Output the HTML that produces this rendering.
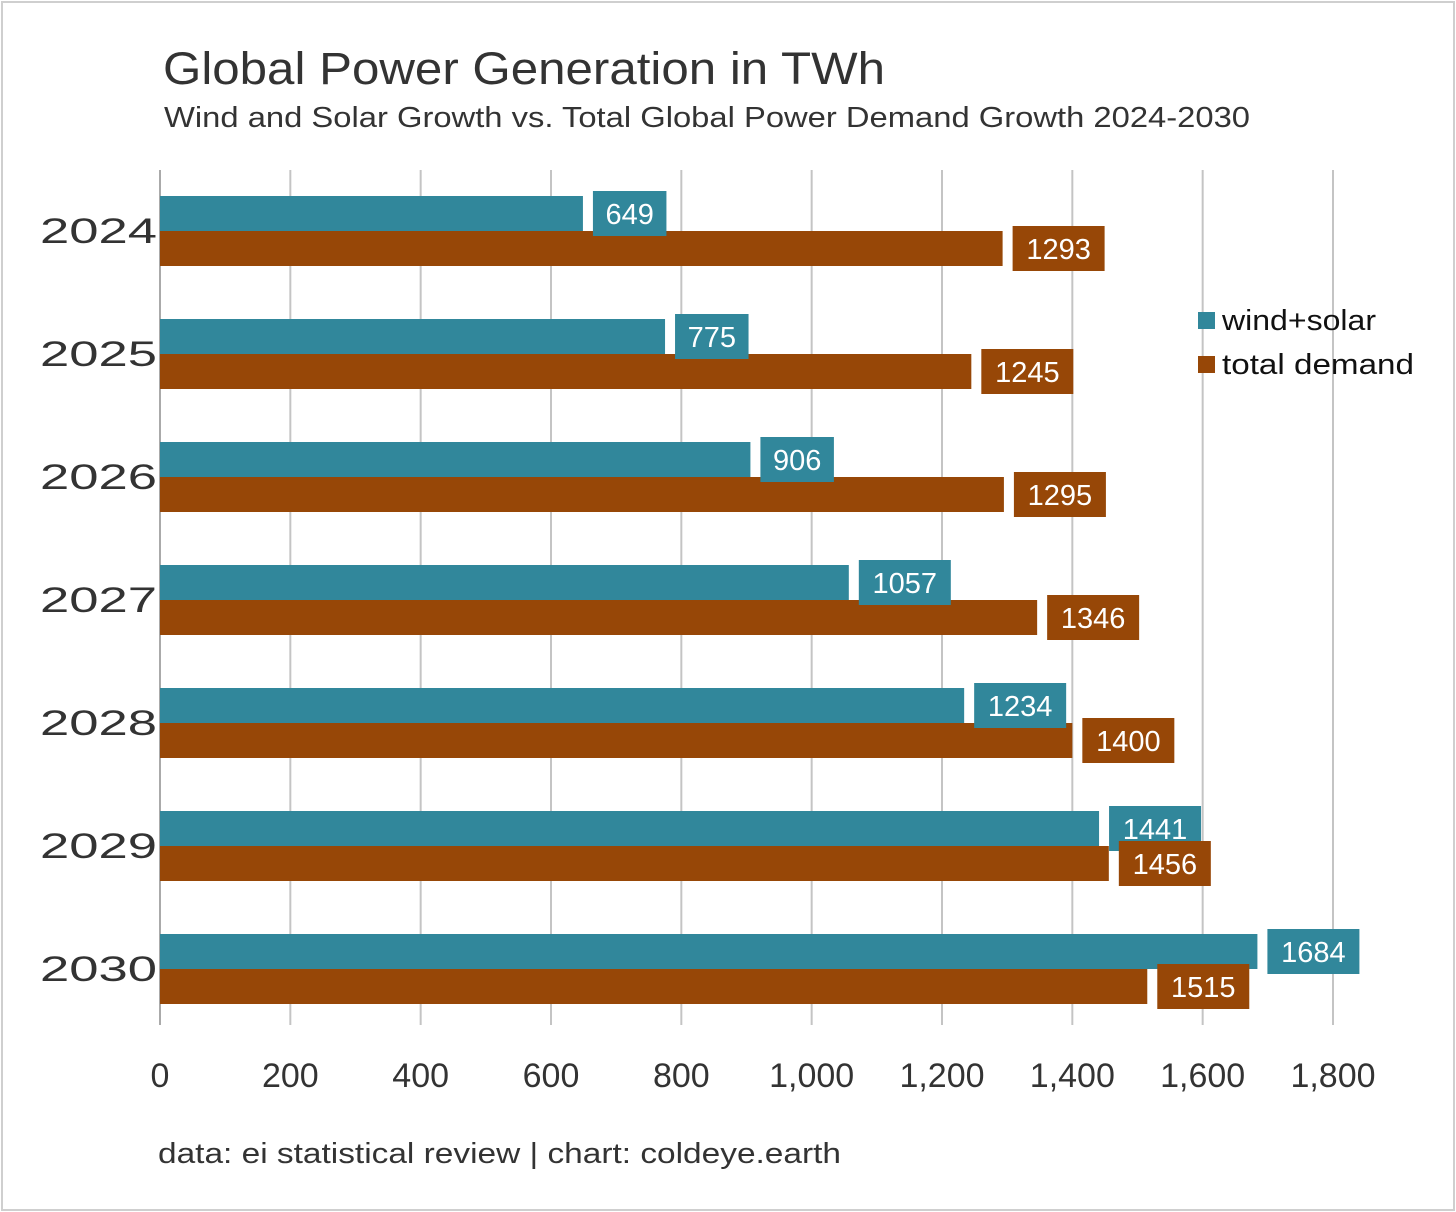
<!DOCTYPE html>
<html><head><meta charset="utf-8">
<style>
html,body{margin:0;padding:0;background:#fff;}
body{width:1456px;height:1212px;position:relative;overflow:hidden;font-family:"Liberation Sans",sans-serif;color:#333;}
#frame{position:absolute;left:1px;top:1px;width:1450px;height:1206px;border:2px solid #cfcfcf;}
</style></head><body>
<div id="frame"></div>
<svg id="chart" width="1456" height="1212" style="position:absolute;left:0;top:0">
<text x="163" y="84" font-size="45" fill="#333" textLength="722" lengthAdjust="spacingAndGlyphs">Global Power Generation in TWh</text>
<text x="164" y="127" font-size="29" fill="#333" textLength="1086" lengthAdjust="spacingAndGlyphs">Wind and Solar Growth vs. Total Global Power Demand Growth 2024-2030</text>
<text x="158" y="1163" font-size="29" fill="#333" textLength="683" lengthAdjust="spacingAndGlyphs">data: ei statistical review | chart: coldeye.earth</text>
<g id="grid"></g><g id="bars"></g><g id="axis"></g>
<g>
<rect x="1198" y="312" width="17" height="17" fill="#31879b"></rect>
<text x="1222" y="330" font-size="29" fill="#111" textLength="154" lengthAdjust="spacingAndGlyphs">wind+solar</text>
<rect x="1198" y="356" width="17" height="17" fill="#974707"></rect>
<text x="1222" y="374" font-size="29" fill="#111" textLength="192" lengthAdjust="spacingAndGlyphs">total demand</text>
</g>
</svg>
<script>
const categories=["2024","2025","2026","2027","2028","2029","2030"];
const windSolar=[649,775,906,1057,1234,1441,1684];
const totalDemand=[1293,1245,1295,1346,1400,1456,1515];
const xTicks=[0,200,400,600,800,1000,1200,1400,1600,1800];
const xTickLabels=["0","200","400","600","800","1,000","1,200","1,400","1,600","1,800"];
const NS="http://www.w3.org/2000/svg";
const x0=160,x1=1333,xMax=1800,plotTop=170,plotBottom=1025;
function xs(v){return x0+v/xMax*(x1-x0);}
function yc(i){return 231+i*123;}
function mk(tag,attrs,parent){const e=document.createElementNS(NS,tag);for(const k in attrs)e.setAttribute(k,attrs[k]);parent.appendChild(e);return e;}
const grid=document.getElementById('grid'),bars=document.getElementById('bars'),axis=document.getElementById('axis');
xTicks.forEach((t,i)=>{
 const l=mk('line',{x1:xs(t),x2:xs(t),y1:plotTop,y2:plotBottom,stroke:i==0?'#aaa':'#c4c4c4','stroke-width':2},grid);
 
 
 const tx=mk('text',{x:xs(t),y:1087,'font-size':34,'text-anchor':'middle',fill:'#333'},axis);
 tx.textContent=xTickLabels[i];
 
 
});
function label(v,x,yTop,color,parent){
 const s=String(v),w=s.length*18.5+18;
 const r=mk('rect',{x:x+10,y:yTop-5,width:w,height:45,fill:color},parent);
 
 
 const t=mk('text',{x:x+10+w/2,y:yTop+28,'font-size':29,'text-anchor':'middle',fill:'#fff'},parent);
 t.textContent=s;
 
 
}
categories.forEach((c,i)=>{
 const y=yc(i);
 const yl=mk('text',{x:40,y:y+12,'font-size':35,fill:'#333',textLength:117,lengthAdjust:'spacingAndGlyphs'},axis);
 yl.textContent=c;
 
 
 const b1=mk('rect',{x:x0,y:y-35,width:xs(windSolar[i])-x0,height:35,fill:'#31879b'},bars);
 
 
 const b2=mk('rect',{x:x0,y:y,width:xs(totalDemand[i])-x0,height:35,fill:'#974707'},bars);
 
 
 label(windSolar[i],xs(windSolar[i]),y-35,'#31879b',bars);
 label(totalDemand[i],xs(totalDemand[i]),y,'#974707',bars);
});
</script>
</body></html>
